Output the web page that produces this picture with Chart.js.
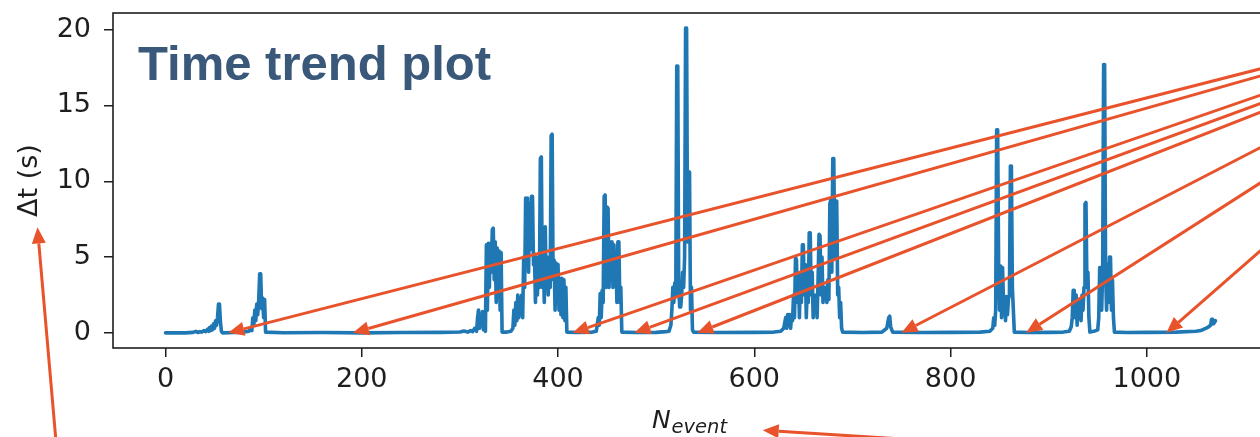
<!DOCTYPE html>
<html><head><meta charset="utf-8">
<script src="https://cdn.jsdelivr.net/npm/chart.js@4.4.1/dist/chart.umd.min.js"></script>
<style>
html,body{margin:0;padding:0;background:#fff;overflow:hidden;width:1260px;height:437px}
#wrap{position:relative;width:1269px;height:437px}
</style></head>
<body><div id="wrap"><canvas id="c" width="1269" height="437"></canvas></div>
<script>
// ---- data ----
const nEvent = [
  0,10,20,28,31,33,35,37,39,41,43,44,45,46,47,48,49,50,51,52,53,54,55,56,57,58,
  70,80,85,87,88,
  89,90,91,92,93,94,95,96,97,98,99,100,101,102,
  120,160,200,240,280,300,304,308,311,313,315,317,
  318,319,320,321,322,323,324,325,326,327,328,329,330,331,332,333,334,335,336,337,338,339,340,341,342,343,
  348,352,
  354,355,356,357,358,359,360,361,362,363,364,365,366,367,368,369,370,371,372,373,374,375,376,377,378,379,380,381,
  382,383,384,385,386,387,388,389,390,391,392,393,394,395,396,397,398,399,400,401,402,403,404,405,406,407,408,409,
  420,435,439,
  441,442,443,444,445,446,447,448,449,450,451,452,453,454,455,456,457,458,459,460,461,462,463,464,465,
  480,500,510,513,
  515,516,517,518,519,520,521,522,523,524,525,526,527,528,529,530,531,532,533,534,535,536,537,538,
  560,600,620,627,
  630,632,633,634,635,636,637,638,639,640,641,642,643,644,645,646,647,648,649,650,651,652,653,654,655,656,657,658,659,
  660,661,662,663,664,665,666,667,668,669,670,671,672,673,674,675,676,677,678,679,680,681,682,683,684,685,686,687,688,689,690,
  710,730,
  735,737,738,739,741,
  770,800,830,840,
  843,844,845,846,847,848,849,850,851,852,853,854,855,856,857,858,859,860,861,862,863,864,865,
  880,900,915,921,
  923,924,925,926,927,928,929,930,931,932,933,934,935,936,937,938,939,940,941,942,
  946,950,
  951,952,953,954,955,956,957,958,959,960,961,962,963,964,965,966,967,
  980,1000,1030,1050,1055,1060,1063,1065,1066,1067,1068,1070
];
const dtSec = [
  0,0.01,0,0.03,0.1,0.02,0.08,0.05,0.15,0.08,0.25,0.1,0.35,0.15,0.45,0.2,0.6,0.3,0.8,0.5,1.0,1.9,1.9,0.7,0.1,0,
  0.02,0.05,0.1,0.3,0.15,
  1.0,0.5,1.5,0.8,1.9,1.2,2.2,3.9,3.9,1.6,2.3,1.0,2.2,0.05,
  0.01,0.02,0,0.02,0.03,0.06,0.12,0.05,0.15,0.08,0.3,0.1,
  1.0,1.5,0.3,1.2,0.6,1.4,0.2,0.4,0.1,5.8,1.5,5.9,3.0,5.9,4.0,6.8,6.9,3.5,6.0,2.0,5.6,3.5,5.4,1.5,5.3,0.05,
  0.05,0.1,
  0.3,1.5,0.5,2.0,0.8,2.5,1.0,2.3,1.2,2.5,1.0,5.0,3.0,8.9,5.0,8.9,4.0,8.5,5.5,9.0,9.0,4.5,5.2,2.0,5.0,2.5,4.5,3.0,
  11.5,11.6,3.0,5.0,2.0,7.0,3.0,5.0,2.5,4.8,3.0,13.0,13.1,3.5,4.8,1.5,4.6,2.0,4.5,1.5,3.6,1.2,3.6,1.0,3.5,0.8,3.0,0.05,
  0.02,0.05,0.1,
  1.0,0.5,2.6,1.0,2.8,2.0,9.0,9.1,3.0,8.3,8.2,3.0,6.0,3.5,6.0,3.0,5.8,3.5,5.0,2.0,6.0,6.0,2.0,3.0,0.05,
  0.02,0.03,0.08,0.1,
  0.5,1.5,3.0,2.0,3.3,2.5,17.6,17.6,3.0,1.7,1.7,2.5,4.0,3.0,5.0,20.1,20.1,6.0,10.6,10.6,1.5,3.0,0.2,0.05,
  0.02,0.03,0.05,0.1,
  0.3,1.0,0.3,1.2,0.5,1.2,0.3,1.1,0.8,2.5,1.0,5.0,4.8,2.0,3.8,1.0,4.0,2.0,5.8,5.8,2.5,4.5,1.0,3.0,2.0,6.6,6.6,2.5,4.0,
  1.0,2.5,1.5,2.5,1.0,3.5,6.5,6.4,2.5,5.0,2.0,3.0,2.5,3.0,2.0,3.5,2.2,8.5,8.8,4.0,11.5,11.5,5.0,8.7,8.7,2.5,3.0,1.0,2.0,0.3,0.05,
  0.02,0.05,
  0.3,1.0,1.1,0.4,0.05,
  0.02,0.03,0.05,0.1,
  0.3,1.0,0.5,1.5,13.4,13.4,4.4,1.5,4.4,1.0,4.3,2.0,2.4,0.8,2.4,1.2,2.2,2.5,11.0,11.0,3.0,1.5,0.05,
  0.02,0.03,0.05,0.1,
  0.4,1.0,2.8,2.8,1.0,2.5,0.5,2.2,1.2,1.8,0.8,2.5,1.5,3.0,8.5,8.6,3.0,4.0,1.0,0.05,
  0.1,0.2,
  1.0,4.3,4.3,1.5,4.0,17.7,17.7,4.0,1.5,4.5,2.0,5.0,5.0,1.5,3.5,1.0,0.05,
  0.02,0.03,0.05,0.1,0.15,0.3,0.4,0.5,0.9,0.9,0.6,0.8
];
const xTickValues = [0, 200, 400, 600, 800, 1000];
const yTickValues = [0, 5, 10, 15, 20];
const chartTitle = 'Time trend plot';
const yAxisLabel = 'Δt (s)';
const xAxisLabelMain = 'N';
const xAxisLabelSub = 'event';
// annotation arrows (in data units): tips on the baseline, tails beyond the right edge
const arrowTipN  = [64, 191, 415, 478, 542, 750, 877, 1020];
const arrowTipDt = [0, 0, 0, 0, 0, 0, 0, 0];
const arrowTailN  = [1157, 1157, 1157, 1157, 1157, 1157, 1157, 1157];
const arrowTailDt = [18.1, 17.7, 16.6, 16.1, 15.6, 13.6, 11.6, 7.75];
// arrows pointing at the axis labels
const labelArrowTipN  = [-130.5, 608.6];
const labelArrowTipDt = [6.96, -6.43];
const labelArrowTailN  = [-111, 775];
const labelArrowTailDt = [-7.6, -7.1];

const points = nEvent.map((n, i) => ({x: n, y: dtSec[i]}));

const ARROW = '#e8532b';
const INK = '#1e1e1e';

function drawArrow(ctx, x0, y0, x1, y1) {
  const ang = Math.atan2(y1 - y0, x1 - x0);
  const hl = 16, hw = 7;
  const bx = x1 - hl * Math.cos(ang), by = y1 - hl * Math.sin(ang);
  ctx.save();
  ctx.strokeStyle = ARROW; ctx.fillStyle = ARROW;
  ctx.lineWidth = 3; ctx.lineCap = 'butt';
  ctx.beginPath(); ctx.moveTo(x0, y0); ctx.lineTo(bx, by); ctx.stroke();
  ctx.beginPath();
  ctx.moveTo(x1, y1);
  ctx.lineTo(bx + hw * Math.sin(ang), by - hw * Math.cos(ang));
  ctx.lineTo(bx - hw * Math.sin(ang), by + hw * Math.cos(ang));
  ctx.closePath(); ctx.fill();
  ctx.restore();
}

const overlay = {
  id: 'overlay',
  afterDraw(chart) {
    const {ctx, chartArea: a, scales: {x, y}} = chart;
    ctx.save();
    ctx.strokeStyle = INK; ctx.lineWidth = 1.6;
    ctx.strokeRect(a.left, a.top, a.right - a.left, a.bottom - a.top);
    ctx.restore();
    ctx.save();
    ctx.fillStyle = '#3a587a';
    ctx.font = 'bold 49px "Liberation Sans", Arial, sans-serif';
    ctx.textBaseline = 'alphabetic'; ctx.textAlign = 'left';
    ctx.fillText(chartTitle, 138, 80);
    ctx.restore();
    ctx.save();
    ctx.fillStyle = INK; ctx.textBaseline = 'alphabetic'; ctx.textAlign = 'left';
    ctx.font = 'italic 25px "DejaVu Sans", sans-serif';
    const wN = ctx.measureText(xAxisLabelMain).width;
    ctx.font = 'italic 19.5px "DejaVu Sans", sans-serif';
    const wS = ctx.measureText(xAxisLabelSub).width;
    const cx = (a.left + a.right) / 2 - 1;
    const sx = cx - (wN + wS + 1) / 2;
    ctx.font = 'italic 25px "DejaVu Sans", sans-serif';
    ctx.fillText(xAxisLabelMain, sx, 428);
    ctx.font = 'italic 19.5px "DejaVu Sans", sans-serif';
    ctx.fillText(xAxisLabelSub, sx + wN + 1, 433);
    ctx.restore();
    for (let i = 0; i < arrowTipN.length; i++) {
      drawArrow(ctx, x.getPixelForValue(arrowTailN[i]), y.getPixelForValue(arrowTailDt[i]),
                x.getPixelForValue(arrowTipN[i]), y.getPixelForValue(arrowTipDt[i]));
    }
    for (let i = 0; i < labelArrowTipN.length; i++) {
      drawArrow(ctx, x.getPixelForValue(labelArrowTailN[i]), y.getPixelForValue(labelArrowTailDt[i]),
                x.getPixelForValue(labelArrowTipN[i]), y.getPixelForValue(labelArrowTipDt[i]));
    }
  }
};

new Chart(document.getElementById('c'), {
  type: 'line',
  data: {
    datasets: [{
      data: points,
      borderColor: '#1f77b4',
      borderWidth: 3.6,
      pointRadius: 0,
      tension: 0,
      fill: false,
      borderJoinStyle: 'round',
      borderCapStyle: 'round'
    }]
  },
  options: {
    responsive: false,
    animation: false,
    devicePixelRatio: 1,
    layout: {padding: {left: 0, right: 1, top: 13, bottom: 0}},
    plugins: {legend: {display: false}, tooltip: {enabled: false}},
    scales: {
      x: {
        type: 'linear',
        min: -53.5, max: 1123.5,
        afterBuildTicks: s => { s.ticks = xTickValues.map(v => ({value: v})); },
        afterFit: s => { s.height = 89; s.paddingLeft = 0; s.paddingRight = 0; },
        grid: {drawOnChartArea: false, drawTicks: true, tickLength: 9, color: INK, lineWidth: 1.5},
        border: {display: false},
        ticks: {font: {family: 'DejaVu Sans', size: 27}, color: INK, padding: 7, maxRotation: 0,
                callback: v => String(v)}
      },
      y: {
        min: -1.0, max: 21.1,
        afterBuildTicks: s => { s.ticks = yTickValues.map(v => ({value: v})); },
        afterFit: s => { s.width = 113; s.paddingTop = 0; s.paddingBottom = 0; },
        grid: {drawOnChartArea: false, drawTicks: true, tickLength: 9, color: INK, lineWidth: 1.5},
        border: {display: false},
        ticks: {font: {family: 'DejaVu Sans', size: 27}, color: INK, padding: 13,
                callback: v => String(v)},
        title: {display: true, text: yAxisLabel, font: {family: 'DejaVu Sans', size: 27},
                color: INK, padding: {top: 14, bottom: 0}}
      }
    }
  },
  plugins: [overlay]
});
</script>
</body></html>
